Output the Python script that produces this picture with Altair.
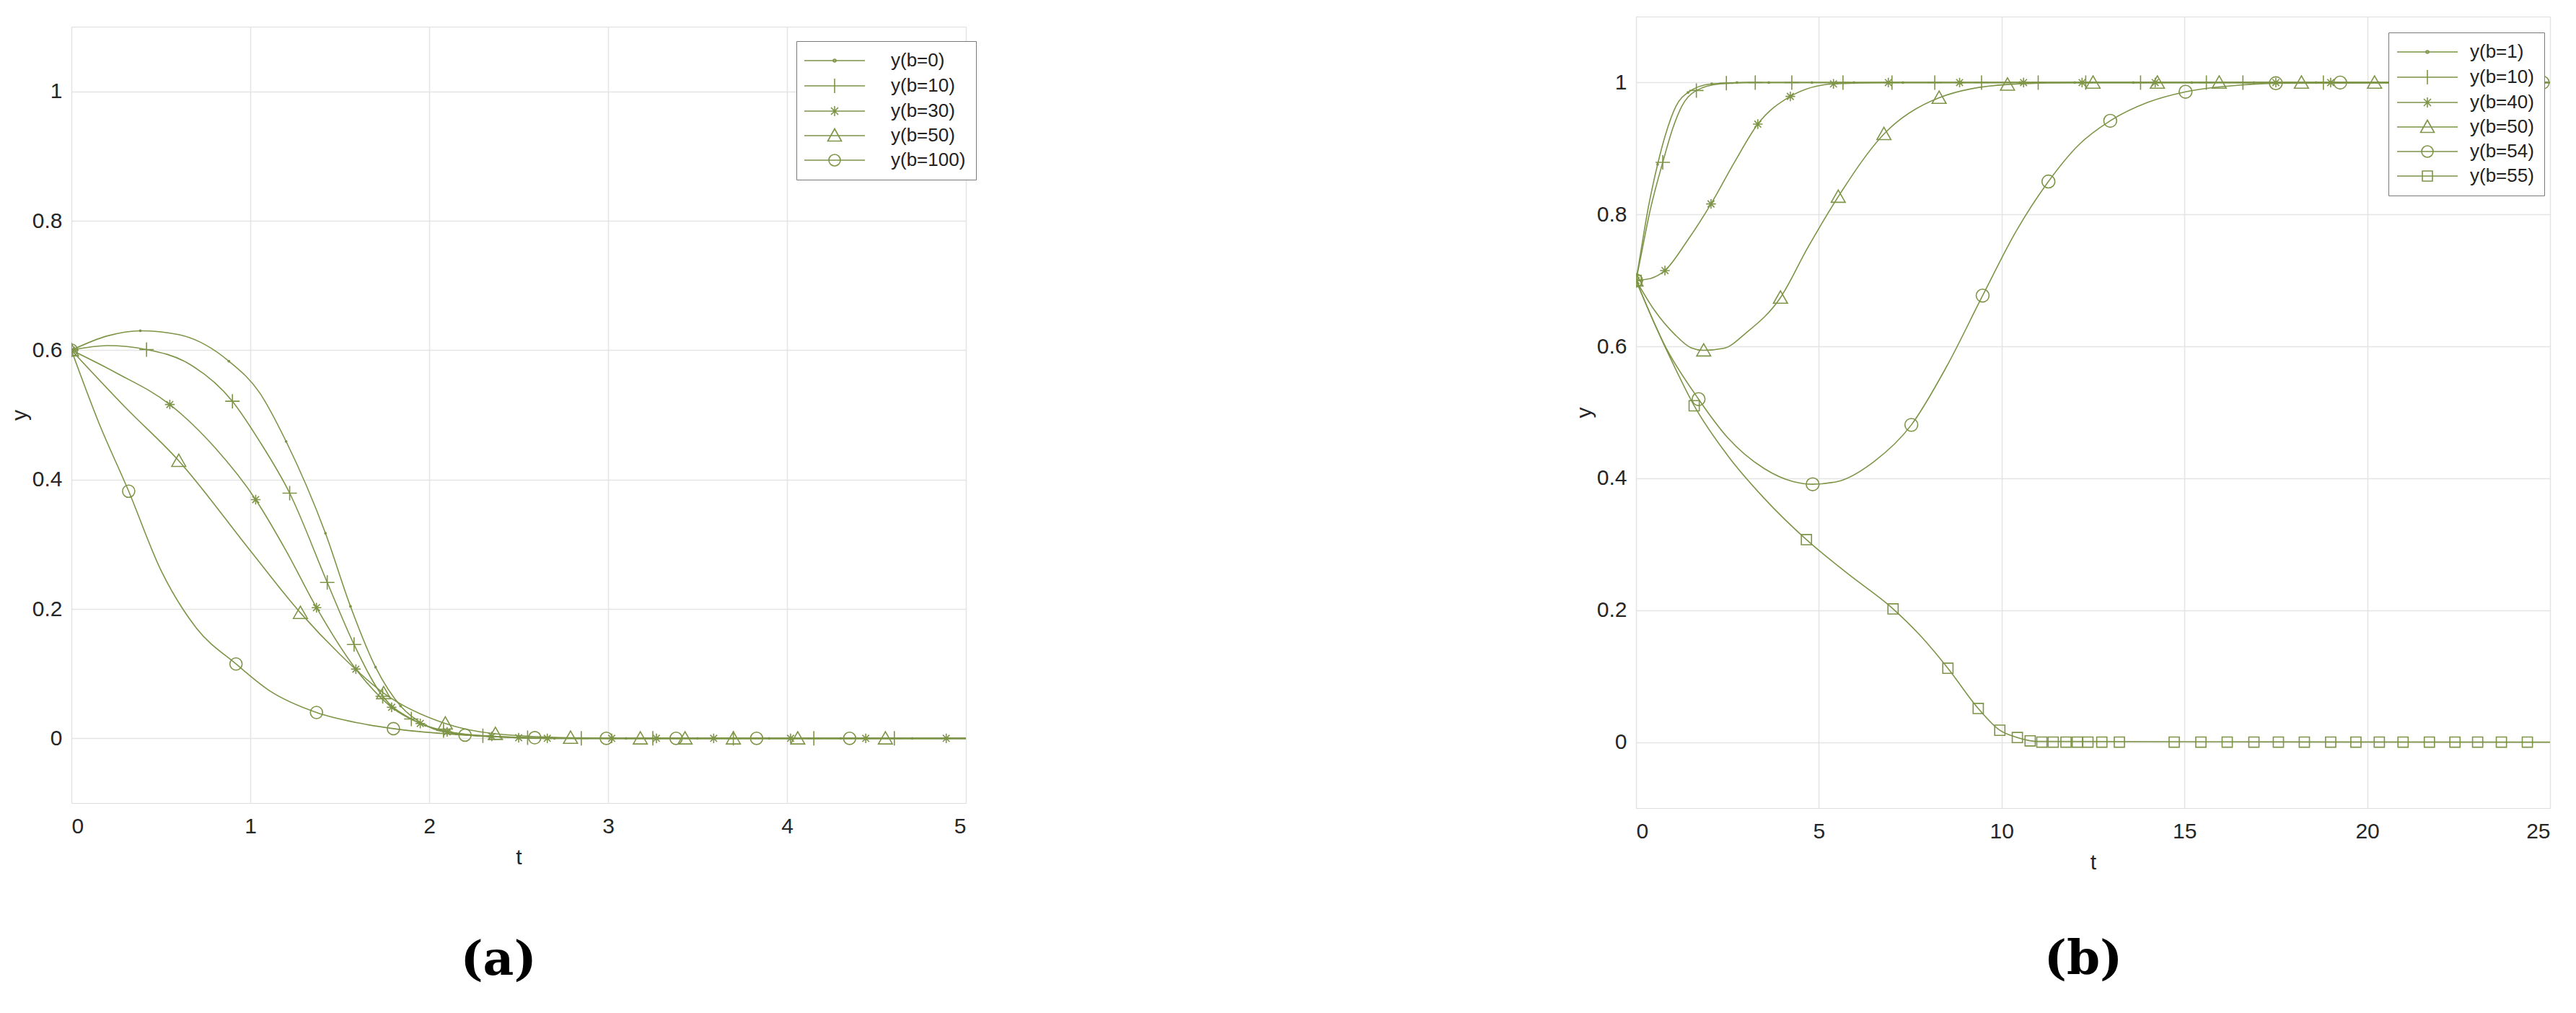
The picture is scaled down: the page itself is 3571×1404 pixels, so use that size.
import altair as alt
import pandas as pd

COLOR = "#7e9447"
FONT = "Liberation Sans"

# ---------------- panel (a) ----------------
A_LABELS = ["y(b=0)", "y(b=10)", "y(b=30)", "y(b=50)", "y(b=100)"]
A_XTICKS = [0, 1, 2, 3, 4, 5]
A_YTICKS = [0, 0.2, 0.4, 0.6, 0.8, 1]

A_B0_T = [0, 0.2, 0.385, 0.6, 0.88, 1.05, 1.20, 1.42, 1.56, 1.70, 1.84, 1.98, 2.15, 2.4, 2.7, 3.2, 5]
A_B0_Y = [0.6, 0.622, 0.630, 0.624, 0.583, 0.535, 0.459, 0.317, 0.204, 0.11, 0.05, 0.02, 0.007, 0.002, 0, 0, 0]
A_B0_MT = [0, 0.385, 0.88, 1.20, 1.42, 1.56, 1.70, 1.84, 1.98, 2.15, 2.4, 2.7, 3.1, 3.5, 3.9, 4.3, 4.7]
A_B0_MY = [0.6, 0.630, 0.583, 0.459, 0.317, 0.204, 0.11, 0.05, 0.02, 0.007, 0.002, 0, 0, 0, 0, 0, 0]

A_B10_T = [0, 0.2, 0.42, 0.65, 0.90, 1.05, 1.22, 1.43, 1.58, 1.74, 1.9, 2.08, 2.3, 2.55, 2.85, 5]
A_B10_Y = [0.6, 0.607, 0.601, 0.58, 0.521, 0.46, 0.379, 0.241, 0.145, 0.065, 0.03, 0.012, 0.004, 0.001, 0, 0]
A_B10_MT = [0, 0.42, 0.90, 1.22, 1.43, 1.58, 1.74, 1.9, 2.08, 2.3, 2.55, 2.85, 3.25, 3.7, 4.15, 4.6]
A_B10_MY = [0.6, 0.601, 0.521, 0.379, 0.241, 0.145, 0.065, 0.03, 0.012, 0.004, 0.001, 0, 0, 0, 0, 0]

A_B30_T = [0, 0.25, 0.55, 0.8, 1.03, 1.2, 1.37, 1.59, 1.79, 1.95, 2.1, 2.35, 2.66, 5]
A_B30_Y = [0.6, 0.565, 0.516, 0.45, 0.369, 0.29, 0.202, 0.107, 0.048, 0.023, 0.01, 0.003, 0, 0]
A_B30_MT = [0, 0.55, 1.03, 1.37, 1.59, 1.79, 1.95, 2.1, 2.35, 2.5, 2.66, 3.02, 3.27, 3.59, 4.02, 4.44, 4.89]
A_B30_MY = [0.6, 0.516, 0.369, 0.202, 0.107, 0.048, 0.023, 0.01, 0.003, 0.001, 0, 0, 0, 0, 0, 0, 0]

A_B50_T = [0, 0.3, 0.60, 1.0, 1.28, 1.5, 1.745, 2.09, 2.37, 2.79, 3.18, 5]
A_B50_Y = [0.6, 0.512, 0.429, 0.29, 0.194, 0.13, 0.07, 0.023, 0.007, 0.001, 0, 0]
A_B50_MT = [0, 0.60, 1.28, 1.745, 2.09, 2.37, 2.79, 3.18, 3.43, 3.70, 4.06, 4.55]
A_B50_MY = [0.6, 0.429, 0.194, 0.07, 0.023, 0.007, 0.001, 0, 0, 0, 0, 0]

A_B100_T = [0, 0.15, 0.32, 0.5, 0.7, 0.92, 1.1, 1.37, 1.6, 1.80, 2.20, 2.59, 2.99, 5]
A_B100_Y = [0.6, 0.49, 0.382, 0.26, 0.17, 0.115, 0.075, 0.040, 0.024, 0.015, 0.005, 0.001, 0, 0]
A_B100_MT = [0, 0.32, 0.92, 1.37, 1.80, 2.20, 2.59, 2.99, 3.38, 3.83, 4.35]
A_B100_MY = [0.6, 0.382, 0.115, 0.040, 0.015, 0.005, 0.001, 0, 0, 0, 0]

# ---------------- panel (b) ----------------
B_LABELS = ["y(b=1)", "y(b=10)", "y(b=40)", "y(b=50)", "y(b=54)", "y(b=55)"]
B_XTICKS = [0, 5, 10, 15, 20, 25]
B_YTICKS = [0, 0.2, 0.4, 0.6, 0.8, 1]

B_B1_T = [0, 0.15, 0.3, 0.59, 0.8, 1.09, 1.42, 2.07, 3, 25]
B_B1_Y = [0.7, 0.75, 0.80, 0.876, 0.92, 0.964, 0.985, 0.998, 1, 1]
B_B1_MT = [0, 0.59, 1.42, 2.07, 2.76, 3.63, 4.81, 5.96, 7.3, 8.9, 10.5, 12.0, 13.6, 15.2, 16.9, 18.6, 20.3, 22, 23.7]
B_B1_MY = [0.7, 0.876, 0.985, 0.998, 1, 1, 1, 1, 1, 1, 1, 1, 1, 1, 1, 1, 1, 1, 1]

B_B10_T = [0, 0.18, 0.36, 0.73, 1.0, 1.25, 1.65, 2.3, 3, 25]
B_B10_Y = [0.7, 0.75, 0.80, 0.879, 0.93, 0.964, 0.988, 0.998, 1, 1]
B_B10_MT = [0, 0.73, 1.65, 2.47, 3.26, 4.26, 5.66, 7.0, 8.17, 9.45, 11.0, 12.3, 13.8, 15.6, 16.6, 18.8, 20.7, 22.7, 24.7]
B_B10_MY = [0.7, 0.879, 0.988, 0.999, 1, 1, 1, 1, 1, 1, 1, 1, 1, 1, 1, 1, 1, 1, 1]

B_B40_T = [0, 0.4, 0.79, 1.4, 2.05, 2.7, 3.33, 4.22, 5.4, 6.9, 25]
B_B40_Y = [0.7, 0.703, 0.715, 0.76, 0.816, 0.88, 0.937, 0.979, 0.998, 1, 1]
B_B40_MT = [0, 0.79, 2.05, 3.33, 4.22, 5.4, 6.9, 8.85, 10.6, 12.2, 14.2, 17.5, 19.0, 21.5, 24]
B_B40_MY = [0.7, 0.715, 0.816, 0.937, 0.979, 0.998, 1, 1, 1, 1, 1, 1, 1, 1, 1]

B_B50_T = [0, 0.5, 1.06, 1.5, 1.85, 2.4, 3.0, 3.95, 4.7, 5.53, 6.78, 8.29, 10.16, 12, 25]
B_B50_Y = [0.7, 0.655, 0.618, 0.598, 0.594, 0.597, 0.62, 0.674, 0.75, 0.827, 0.922, 0.977, 0.997, 1, 1]
B_B50_MT = [0, 1.85, 3.95, 5.53, 6.78, 8.29, 10.16, 12.5, 14.26, 15.95, 18.2, 20.2, 22.8]
B_B50_MY = [0.7, 0.594, 0.674, 0.827, 0.922, 0.977, 0.997, 1, 1, 1, 1, 1, 1]

B_B54_T = [0, 0.8, 1.71, 2.5, 3.5, 4.3, 4.83, 5.5, 6.5, 7.53, 8.5, 9.48, 10.4, 11.28, 12.1, 12.97, 14, 15.03, 16.5, 17.5, 25]
B_B54_Y = [0.7, 0.6, 0.52, 0.462, 0.415, 0.395, 0.391, 0.395, 0.425, 0.481, 0.57, 0.677, 0.775, 0.85, 0.905, 0.942, 0.97, 0.986, 0.996, 0.999, 1]
B_B54_MT = [0, 1.71, 4.83, 7.53, 9.48, 11.28, 12.97, 15.03, 17.5, 19.26, 22, 24.8]
B_B54_MY = [0.7, 0.52, 0.391, 0.481, 0.677, 0.85, 0.942, 0.986, 0.999, 1, 1, 1]

B_B55_T = [0, 0.5, 1.0, 1.59, 2.5, 3.5, 4.66, 5.8, 7.03, 7.8, 8.53, 9.36, 9.95, 10.43, 11, 25]
B_B55_Y = [0.7, 0.635, 0.575, 0.51, 0.435, 0.37, 0.307, 0.255, 0.202, 0.16, 0.112, 0.051, 0.018, 0.007, 0.001, 0]
B_B55_MT = [0, 1.59, 4.66, 7.03, 8.53, 9.36, 9.95, 10.43, 10.78, 11.1, 11.41, 11.76, 12.07, 12.36, 12.74,
            13.22, 14.72, 15.45, 16.17, 16.9, 17.57, 18.28, 19.0, 19.69, 20.33, 20.98, 21.7, 22.4, 23.02, 23.67, 24.38]
B_B55_MY = [0.7, 0.51, 0.307, 0.202, 0.112, 0.051, 0.018, 0.007, 0.002, 0, 0, 0, 0, 0, 0,
            0, 0, 0, 0, 0, 0, 0, 0, 0, 0, 0, 0, 0, 0, 0, 0]

# marker glyphs (SVG paths, unit square)
P_PLUS = "M-1,0L1,0M0,-1L0,1"
P_STAR = "M-1,0L1,0M0,-1L0,1M-0.7,-0.7L0.7,0.7M-0.7,0.7L0.7,-0.7"
P_TRI = "M0,-0.95L1,0.8L-1,0.8Z"
P_CIRC = "M-1,0A1,1,0,1,1,1,0A1,1,0,1,1,-1,0"
P_SQ = "M-1,-1L1,-1L1,1L-1,1Z"

# legend glyphs: line segment plus marker
L_LINE = "M-4.2,0L4.2,0"
LEG_DOT = L_LINE + "M-0.2,0A0.2,0.2,0,1,1,0.2,0A0.2,0.2,0,1,1,-0.2,0"
LEG_PLUS = L_LINE + "M0,-1L0,1"
LEG_STAR = L_LINE + "M0,-0.7L0,0.7M-0.5,-0.5L0.5,0.5M-0.5,0.5L0.5,-0.5"
LEG_TRI = L_LINE + "M0,-0.95L0.95,0.75L-0.95,0.75Z"
LEG_CIRC = L_LINE + "M-0.8,0A0.8,0.8,0,1,1,0.8,0A0.8,0.8,0,1,1,-0.8,0"
LEG_SQ = L_LINE + "M-0.7,-0.7L0.7,-0.7L0.7,0.7L-0.7,0.7Z"

TXT = "#262626"


def make_axes(xticks, yticks):
    xa = alt.Axis(values=xticks, format="~g", grid=True, gridColor="#e4e4e4", gridWidth=1.5,
                  domain=False, ticks=False, tickSize=0, labelFont=FONT, labelFontSize=30,
                  labelColor=TXT, labelPadding=17, title="t", titleFont=FONT,
                  titleFontSize=30, titleFontWeight="normal", titleColor=TXT, titlePadding=13)
    ya = alt.Axis(values=yticks, format="~g", grid=True, gridColor="#e4e4e4", gridWidth=1.5,
                  domain=False, ticks=False, tickSize=0, labelFont=FONT, labelFontSize=30,
                  labelColor=TXT, labelPadding=13, title="y", titleFont=FONT,
                  titleFontSize=30, titleFontWeight="normal", titleColor=TXT, titlePadding=2)
    return xa, ya


def panel(series, labels, leg_paths, xdom, xticks, yticks, w, h, legx, legy,
          sym_off, lab_off, cap, capx, capy):
    xa, ya = make_axes(xticks, yticks)
    xs = alt.Scale(domain=xdom, nice=False, zero=False)
    ys = alt.Scale(domain=[-0.1, 1.1], nice=False, zero=False)
    layers = []
    for (lt, ly, mt, my, shape, size, filled) in series:
        ldf = pd.DataFrame({"t": lt, "y": ly})
        mdf = pd.DataFrame({"t": mt, "y": my})
        layers.append(
            alt.Chart(ldf).mark_line(color=COLOR, strokeWidth=1.6, interpolate="monotone", clip=True)
            .encode(x=alt.X("t:Q", scale=xs, axis=xa), y=alt.Y("y:Q", scale=ys, axis=ya))
        )
        layers.append(
            alt.Chart(mdf).mark_point(shape=shape, size=size, filled=filled, color=COLOR,
                                      strokeWidth=1.6, opacity=1, clip=True)
            .encode(x=alt.X("t:Q", scale=xs, axis=xa), y=alt.Y("y:Q", scale=ys, axis=ya))
        )
    # legend-only layer (its points lie outside the x domain and are clipped)
    n = len(labels)
    legdf = pd.DataFrame({"s": labels, "t": [xdom[0] - 100] * n, "y": [0.5] * n})
    layers.append(
        alt.Chart(legdf).mark_point(filled=False, color=COLOR, strokeWidth=1.6, opacity=1, clip=True)
        .encode(
            x=alt.X("t:Q", scale=xs, axis=xa),
            y=alt.Y("y:Q", scale=ys, axis=ya),
            shape=alt.Shape("s:N", scale=alt.Scale(domain=labels, range=leg_paths),
                            legend=alt.Legend(
                                orient="none", legendX=legx, legendY=legy, title=None,
                                fillColor="white", strokeColor="#7a7a7a", padding=14,
                                labelFont=FONT, labelFontSize=26, labelColor="#222222",
                                symbolSize=400, symbolStrokeWidth=1.6, symbolStrokeColor=COLOR,
                                symbolFillColor="transparent", symbolOpacity=1,
                                symbolOffset=sym_off, labelOffset=lab_off, rowPadding=8)),
        )
    )
    capdf = pd.DataFrame({"c": [cap]})
    layers.append(
        alt.Chart(capdf).mark_text(font="DejaVu Serif", fontSize=66, fontWeight="bold",
                                   color="black", align="center", baseline="middle")
        .encode(text="c:N", x=alt.value(capx), y=alt.value(capy))
    )
    return alt.layer(*layers).properties(width=w, height=h)


series_a = [
    (A_B0_T, A_B0_Y, A_B0_MT, A_B0_MY, "circle", 14, True),
    (A_B10_T, A_B10_Y, A_B10_MT, A_B10_MY, P_PLUS, 400, False),
    (A_B30_T, A_B30_Y, A_B30_MT, A_B30_MY, P_STAR, 180, False),
    (A_B50_T, A_B50_Y, A_B50_MT, A_B50_MY, P_TRI, 380, False),
    (A_B100_T, A_B100_Y, A_B100_MT, A_B100_MY, P_CIRC, 290, False),
]
series_b = [
    (B_B1_T, B_B1_Y, B_B1_MT, B_B1_MY, "circle", 14, True),
    (B_B10_T, B_B10_Y, B_B10_MT, B_B10_MY, P_PLUS, 400, False),
    (B_B40_T, B_B40_Y, B_B40_MT, B_B40_MY, P_STAR, 180, False),
    (B_B50_T, B_B50_Y, B_B50_MT, B_B50_MY, P_TRI, 380, False),
    (B_B54_T, B_B54_Y, B_B54_MT, B_B54_MY, P_CIRC, 320, False),
    (B_B55_T, B_B55_Y, B_B55_MT, B_B55_MY, P_SQ, 200, False),
]

pa = panel(series_a, A_LABELS, [LEG_DOT, LEG_PLUS, LEG_STAR, LEG_TRI, LEG_CIRC],
           [0, 5], A_XTICKS, A_YTICKS, 1240, 1076, 1005, 34, 26, 65, "(a)", 592, 1294)
pb = panel(series_b, B_LABELS, [LEG_DOT, LEG_PLUS, LEG_STAR, LEG_TRI, LEG_CIRC, LEG_SQ],
           [0, 25], B_XTICKS, B_YTICKS, 1267, 1097, 1043, 22, 27, 46, "(b)", 620, 1307)

# transparent spacer that lowers panel (a) relative to panel (b)
spacer = (
    alt.Chart(pd.DataFrame({"v": [0]})).mark_point(opacity=0)
    .encode(x=alt.X("v:Q", axis=None), y=alt.Y("v:Q", axis=None))
    .properties(width=1240, height=12, view=alt.ViewBackground(stroke="transparent"))
)
left = alt.vconcat(spacer, pa, spacing=0)

chart = (
    alt.hconcat(left, pb, spacing=826)
    .resolve_scale(shape="independent")
    .properties(padding={"left": 3, "top": 14, "right": 5, "bottom": 5})
    .configure_view(stroke="#808080", strokeWidth=2)
    .configure(background="white")
)

chart.save("out.html", embed_options={"renderer": "svg", "actions": False})
